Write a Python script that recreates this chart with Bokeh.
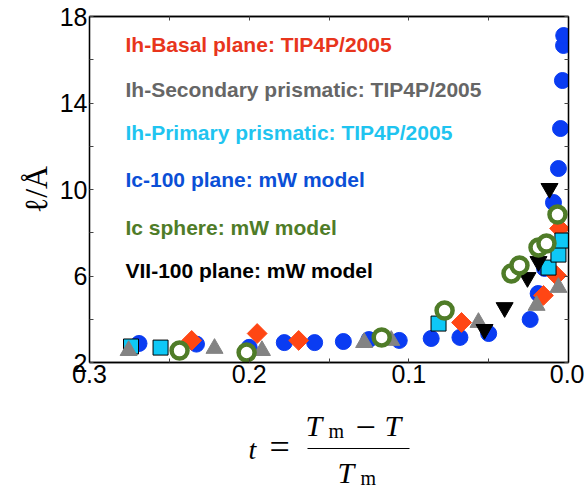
import numpy as np
from bokeh.plotting import figure
from bokeh.layouts import column
from bokeh.core.properties import value
from bokeh.models import (Range1d, FixedTicker, LinearAxis, Label,
                          PrintfTickFormatter)
from bokeh.embed import file_html
from bokeh.resources import INLINE

# ---- data: reduced temperature t and thickness ell (Angstrom) ----
# Ih basal plane, TIP4P/2005
basal_t = [0.236, 0.195, 0.169, 0.067, 0.0157, 0.0075, 0.0056]
basal_l = [3.02, 3.34, 3.02, 3.85, 5.10, 6.02, 8.20]

# Ih secondary prismatic plane, TIP4P/2005
secondary_t = [0.2755, 0.2217, 0.192, 0.128, 0.111, 0.0564, 0.020, 0.0063]
secondary_l = [2.55, 2.65, 2.55, 2.92, 3.02, 3.85, 4.64, 5.47]

# Ih primary prismatic plane, TIP4P/2005
primary_t = [0.274, 0.2555, 0.0814, 0.0125, 0.0063, 0.0038]
primary_l = [2.74, 2.69, 3.80, 6.39, 6.99, 7.64]

# Ic 100 plane, mW model
ic100_t = [0.269, 0.233, 0.200, 0.178, 0.159, 0.141, 0.125, 0.106, 0.086,
           0.068, 0.050, 0.024, 0.019, 0.015, 0.0094, 0.0063, 0.005, 0.0038,
           0.0031, 0.003]
ic100_l = [2.88, 2.85, 2.70, 2.92, 2.92, 2.97, 3.06, 3.02, 3.11, 3.16, 3.34,
           3.99, 5.19, 6.35, 9.40, 10.97, 12.82, 15.04, 16.66, 17.12]

# Ic sphere, mW model
sphere_t = [0.2436, 0.2016, 0.117, 0.0776, 0.0357, 0.0307, 0.0188, 0.0138,
            0.0069]
sphere_l = [2.55, 2.46, 3.16, 4.40, 6.12, 6.49, 7.32, 7.50, 8.84]

# VII 100 plane, mW model
vii_t = [0.0526, 0.040, 0.0257, 0.0188, 0.0119]
vii_l = [3.53, 4.54, 5.93, 6.67, 10.05]

series_names = [
    "Ih-Basal plane: TIP4P/2005",
    "Ih-Secondary prismatic: TIP4P/2005",
    "Ih-Primary prismatic: TIP4P/2005",
    "Ic-100 plane: mW model",
    "Ic sphere: mW model",
    "VII-100 plane: mW model",
]

x_ticks = [0.3, 0.2, 0.1, 0.0]
x_minor = [0.25, 0.15, 0.05]
y_ticks = [2, 6, 10, 14, 18]
y_minor = [4, 8, 12, 16]

RED, RED_TXT = "#ff4614", "#e8351c"
GRAY, GRAY_TXT = "#838383", "#666666"
CYAN, CYAN_TXT = "#0ec8f6", "#1fc4f0"
BLUE, BLUE_TXT = "#0a3cf2", "#0b4fd6"
GREEN = "#4f7c28"

W = 584
PLOT_H = 400
LABEL_H = 89
FRAME_L, FRAME_R = 89, 568

p = figure(width=W, height=PLOT_H, output_backend="svg", toolbar_location=None,
           x_range=Range1d(0.3, 0.0), y_range=Range1d(2, 18),
           min_border_left=FRAME_L, min_border_right=W - FRAME_R,
           min_border_top=16, min_border_bottom=38)
p.grid.visible = False
p.outline_line_color = "black"
p.outline_line_width = 1.3
p.background_fill_color = "white"
p.border_fill_color = "white"

TICK_FONT = "Liberation Sans"


def style_axis(ax, ticks, minor, fmt, show_labels):
    ax.ticker = FixedTicker(ticks=ticks, minor_ticks=minor)
    ax.formatter = PrintfTickFormatter(format=fmt)
    ax.axis_line_color = "black"
    ax.axis_line_width = 1.3
    ax.major_tick_in = 4
    ax.major_tick_out = 0
    ax.minor_tick_in = 4
    ax.minor_tick_out = 0
    ax.major_tick_line_color = "#444444"
    ax.minor_tick_line_color = "#444444"
    if show_labels:
        ax.major_label_text_font = TICK_FONT
        ax.major_label_text_font_size = "25px"
        ax.major_label_text_color = "black"
        ax.major_label_standoff = 2
    else:
        # tick marks only on the opposite sides of the box
        ax.major_label_text_font_size = "1px"
        ax.major_label_text_color = None
        ax.major_label_standoff = 0


style_axis(p.xaxis[0], x_ticks, x_minor, "%.1f", True)
style_axis(p.yaxis[0], y_ticks, y_minor, "%d", True)

top_axis = LinearAxis()
style_axis(top_axis, x_ticks, x_minor, "%.1f", False)
p.add_layout(top_axis, "above")
right_axis = LinearAxis()
style_axis(right_axis, y_ticks, y_minor, "%d", False)
p.add_layout(right_axis, "right")

p.yaxis[0].axis_label = "ℓ/Å"
p.yaxis[0].axis_label_text_font = "Liberation Serif"
p.yaxis[0].axis_label_text_font_style = "normal"
p.yaxis[0].axis_label_text_font_size = "32px"
p.yaxis[0].axis_label_text_color = "black"
p.yaxis[0].axis_label_standoff = 3

# ---- markers ----
p.scatter(ic100_t, ic100_l, marker="circle", size=16,
          fill_color=BLUE, line_color=BLUE)
p.scatter(basal_t, basal_l, marker="square", size=14, angle=np.pi / 4,
          fill_color=RED, line_color=RED)
p.scatter(primary_t, primary_l, marker="square", size=15,
          fill_color=CYAN, line_color="black", line_width=1)
p.scatter(secondary_t, secondary_l, marker="triangle", size=17,
          fill_color=GRAY, line_color=GRAY)
p.scatter(vii_t, vii_l, marker="inverted_triangle", size=17,
          fill_color="black", line_color="black")
p.scatter(sphere_t, sphere_l, marker="circle", size=16,
          fill_color="white", line_color=GREEN, line_width=4.5)

# ---- series captions (canvas units, y measured from the top) ----
caption_colors = [RED_TXT, GRAY_TXT, CYAN_TXT, BLUE_TXT, GREEN, "black"]
caption_base = [44, 89, 132, 179, 227, 270]
for name, col, yb in zip(series_names, caption_colors, caption_base):
    p.add_layout(Label(x=125, y=yb, x_units="canvas", y_units="canvas",
                       text=name, text_color=col, text_font="Liberation Sans",
                       text_font_style="bold", text_font_size="21px",
                       text_baseline="alphabetic", text_align="left"))

# ---- x-axis title strip: t = (T_m - T) / T_m ----
# its frame lines up with the plot frame above, so x is in page pixels;
# y is in page pixels measured downward from the top of the page
lab = figure(width=W, height=LABEL_H, output_backend="svg",
             toolbar_location=None, x_axis_location=None,
             y_axis_location=None, x_range=Range1d(FRAME_L, FRAME_R),
             y_range=Range1d(PLOT_H + LABEL_H, PLOT_H),
             min_border=0, outline_line_color=None)
lab.grid.visible = False
lab.background_fill_color = "white"
lab.border_fill_color = "white"

SERIF = value("Liberation Serif")

lab.text(x=[248], y=[449], text=["t"],
         text_font=SERIF, text_font_style="italic", text_font_size="28px",
         text_color="black", text_baseline="alphabetic", text_align="left")
lab.text(x=[305, 384, 337], y=[425, 425, 472], text=["T", "T", "T"],
         text_font=SERIF, text_font_style="italic", text_font_size="30px",
         text_color="black", text_baseline="alphabetic", text_align="left")
lab.text(x=[328, 360], y=[430, 477], text=["m", "m"],
         text_font=SERIF, text_font_size="20px", text_color="black",
         text_baseline="alphabetic", text_align="left")
lab.text(x=[269, 355], y=[446, 426], text=["=", "−"],
         text_font=SERIF, text_font_size="36px", text_color="black",
         text_baseline="alphabetic", text_align="left")
lab.segment(x0=[307], y0=[448], x1=[409], y1=[448],
            line_color="black", line_width=1.2)

layout = column(p, lab, spacing=0)
open("out.html", "w").write(file_html(layout, INLINE))
